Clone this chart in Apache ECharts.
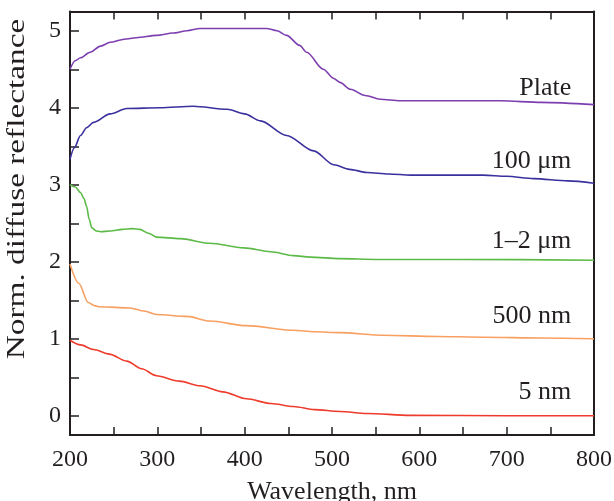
<!DOCTYPE html>
<html>
<head>
<meta charset="utf-8">
<script src="https://cdn.jsdelivr.net/npm/echarts@6/dist/echarts.min.js"></script>
<style>
  html, body { margin: 0; padding: 0; background: #fff; }
  #chart { width: 614px; height: 501px; }
</style>
</head>
<body>
<div id="chart"></div>
<script>
// spectra, [wavelength nm, norm. reflectance]
const plate = [[200,4.5],[206,4.61],[212,4.65],[223,4.72],[235,4.8],[246,4.85],[262,4.89],[276,4.91],[299,4.94],[318,4.97],[334,5.0],[349,5.03],[380,5.03],[425,5.03],[437,5.0],[448,4.94],[463,4.81],[471,4.72],[490,4.5],[502,4.38],[509,4.33],[521,4.24],[538,4.16],[555,4.11],[578,4.09],[640,4.09],[693,4.09],[740,4.07],[800,4.04]];
const um100 = [[200,3.33],[205,3.48],[212,3.64],[219,3.74],[227,3.81],[246,3.92],[265,3.99],[303,4.0],[341,4.02],[380,3.98],[400,3.92],[418,3.83],[448,3.64],[479,3.44],[502,3.26],[520,3.2],[540,3.16],[565,3.14],[590,3.125],[673,3.125],[700,3.11],[731,3.08],[770,3.05],[800,3.02]];
const um12 = [[200,3.0],[206,2.97],[212,2.9],[216,2.82],[219,2.72],[222,2.55],[225,2.44],[230,2.40],[235,2.39],[246,2.40],[260,2.42],[271,2.43],[280,2.42],[290,2.37],[299,2.32],[326,2.30],[360,2.24],[399,2.18],[430,2.13],[456,2.08],[475,2.06],[509,2.04],[551,2.03],[650,2.03],[800,2.02]];
const nm500 = [[200,1.97],[210,1.72],[221,1.47],[228,1.43],[234,1.415],[269,1.40],[285,1.36],[299,1.315],[334,1.29],[360,1.23],[402,1.17],[456,1.11],[480,1.09],[509,1.08],[559,1.045],[620,1.03],[674,1.02],[740,1.01],[800,1.0]];
const nm5 = [[200,0.98],[212,0.92],[227,0.86],[245,0.8],[265,0.71],[282,0.61],[299,0.52],[325,0.45],[349,0.39],[375,0.31],[402,0.22],[430,0.16],[456,0.12],[480,0.08],[509,0.056],[540,0.03],[590,0.005],[700,0.0],[800,0.0]];

const names = ['Plate', '100 μm', '1–2 μm', '500 nm', '5 nm'];
const colors = ['#7d3faf', '#3a309e', '#5cba47', '#f8a062', '#ee3b2b'];
const labelY = [4.26, 3.31, 2.27, 1.29, 0.30];
const labelX = 774;

const xTicks = [200,250,300,350,400,450,500,550,600,650,700,750,800];
const xLabels = [200,300,400,500,600,700,800];
const yTicks = [0,0.5,1,1.5,2,2.5,3,3.5,4,4.5,5];
const yLabels = [0,1,2,3,4,5];

const font = '"Liberation Serif", "Times New Roman", serif';
const axisColor = '#231f20';

const chart = echarts.init(document.getElementById('chart'), null, { renderer: 'canvas' });

const seriesData = [plate, um100, um12, nm500, nm5];

const option = {
  backgroundColor: '#fff',
  animation: false,
  grid: { left: 70, right: 20, top: 11.5, bottom: 66, containLabel: false, outerBoundsMode: 'none' },
  xAxis: [
    {
      type: 'value', min: 200, max: 800,
      name: 'Wavelength, nm', nameLocation: 'middle', nameGap: 44,
      nameTextStyle: { fontFamily: font, fontSize: 26, color: axisColor },
      axisLine: { onZero: false, lineStyle: { color: axisColor, width: 2 } },
      axisTick: { inside: true, length: 8, customValues: xTicks, lineStyle: { color: axisColor, width: 1.5 } },
      axisLabel: { customValues: xLabels, fontFamily: font, fontSize: 24, color: axisColor, margin: 13 },
      splitLine: { show: false }
    },
    {
      type: 'value', min: 200, max: 800, position: 'top',
      axisLine: { onZero: false, lineStyle: { color: axisColor, width: 2 } },
      axisTick: { inside: true, length: 8, customValues: xTicks, lineStyle: { color: axisColor, width: 1.5 } },
      axisLabel: { show: false },
      splitLine: { show: false }
    }
  ],
  yAxis: [
    {
      type: 'value', min: -0.25, max: 5.25,
      axisLine: { show: true, onZero: false, lineStyle: { color: axisColor, width: 2 } },
      axisTick: { show: true, inside: true, length: 9, customValues: yTicks, lineStyle: { color: axisColor, width: 1.5 } },
      axisLabel: { customValues: yLabels, fontFamily: font, fontSize: 24, color: axisColor, margin: 9 },
      splitLine: { show: false }
    },
    {
      type: 'value', min: -0.25, max: 5.25, position: 'right',
      axisLine: { show: true, onZero: false, lineStyle: { color: axisColor, width: 2 } },
      axisTick: { show: false },
      axisLabel: { show: false },
      splitLine: { show: false }
    }
  ],
  // y title is stretched in the original, so draw it as scaled text
  graphic: [{
    type: 'text',
    x: 17, y: 189,
    rotation: Math.PI / 2,
    scaleX: 1.28,
    style: {
      text: 'Norm. diffuse reflectance',
      font: '26px ' + font,
      fill: axisColor,
      align: 'center',
      verticalAlign: 'middle'
    }
  }],
  series: seriesData.map((d, i) => ({
    name: names[i],
    type: 'line',
    data: d,
    showSymbol: false,
    symbol: 'none',
    smooth: 0.3,
    smoothMonotone: 'x',
    lineStyle: { color: colors[i], width: 1.6 },
    markPoint: {
      symbol: 'circle', symbolSize: 0,
      data: [{ coord: [labelX, labelY[i]] }],
      label: {
        show: true, position: 'left', distance: 0,
        formatter: names[i],
        fontFamily: font, fontSize: 26, color: axisColor
      }
    }
  }))
};

chart.setOption(option);
</script>
</body>
</html>
